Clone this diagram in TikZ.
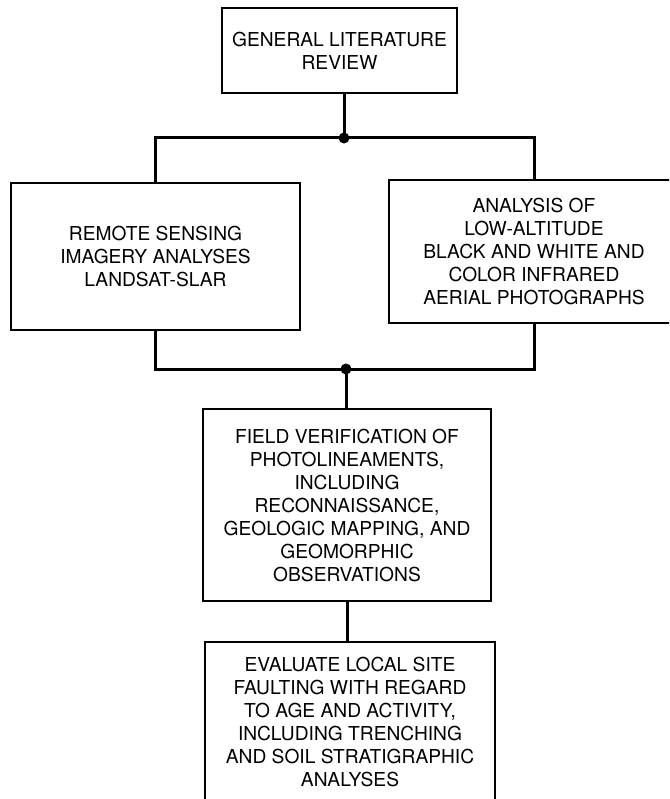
\documentclass[tikz,border=0pt]{standalone}
\usepackage{fontspec}
\setmainfont{TeX Gyre Heros}
\newcommand\boxfont{\fontsize{19.2}{23}\selectfont}
\begin{document}
\begin{tikzpicture}[x=1pt,y=-1pt,
  box/.style={draw, line width=1.8pt, align=center, font=\boxfont, inner sep=0pt},
  conn/.style={line width=3pt}]
\useasboundingbox (0,0) rectangle (669,799);
\fill[white] (0,0) rectangle (669,799);
\clip (0,0) rectangle (669,799);
\node[box, minimum width=235pt, minimum height=85pt] (top) at (339.5,50.5) {GENERAL LITERATURE\\REVIEW};
\node[box, minimum width=289pt, minimum height=147pt] (left) at (155.5,256.5) {REMOTE SENSING\\IMAGERY ANALYSES\\LANDSAT-SLAR};
\node[box, minimum width=290pt, minimum height=143pt] (right) at (534,251.5) {ANALYSIS OF\\LOW-ALTITUDE\\BLACK AND WHITE AND\\COLOR INFRARED\\AERIAL PHOTOGRAPHS};
\node[box, minimum width=288pt, minimum height=192pt] (mid) at (347,505) {FIELD VERIFICATION OF\\PHOTOLINEAMENTS,\\INCLUDING\\RECONNAISSANCE,\\GEOLOGIC MAPPING, AND\\GEOMORPHIC\\OBSERVATIONS};
\node[box, minimum width=290pt, minimum height=160pt] (bot) at (350,722) {EVALUATE LOCAL SITE\\FAULTING WITH REGARD\\TO AGE AND ACTIVITY,\\INCLUDING TRENCHING\\AND SOIL STRATIGRAPHIC\\ANALYSES};
\coordinate (j1) at (344,138);
\coordinate (j2) at (346,369);
\draw[conn] (j1 |- top.south) -- (j1);
\draw[conn] (left.north) |- (j1) -| (right.north);
\fill (j1) circle (5.5pt);
\draw[conn] (left.south) |- (j2) -| (right.south);
\fill (j2) circle (5.5pt);
\draw[conn] (j2) -- (j2 |- mid.north);
\draw[conn] (mid.south) -- (mid.south |- bot.north);
\end{tikzpicture}
\end{document}
